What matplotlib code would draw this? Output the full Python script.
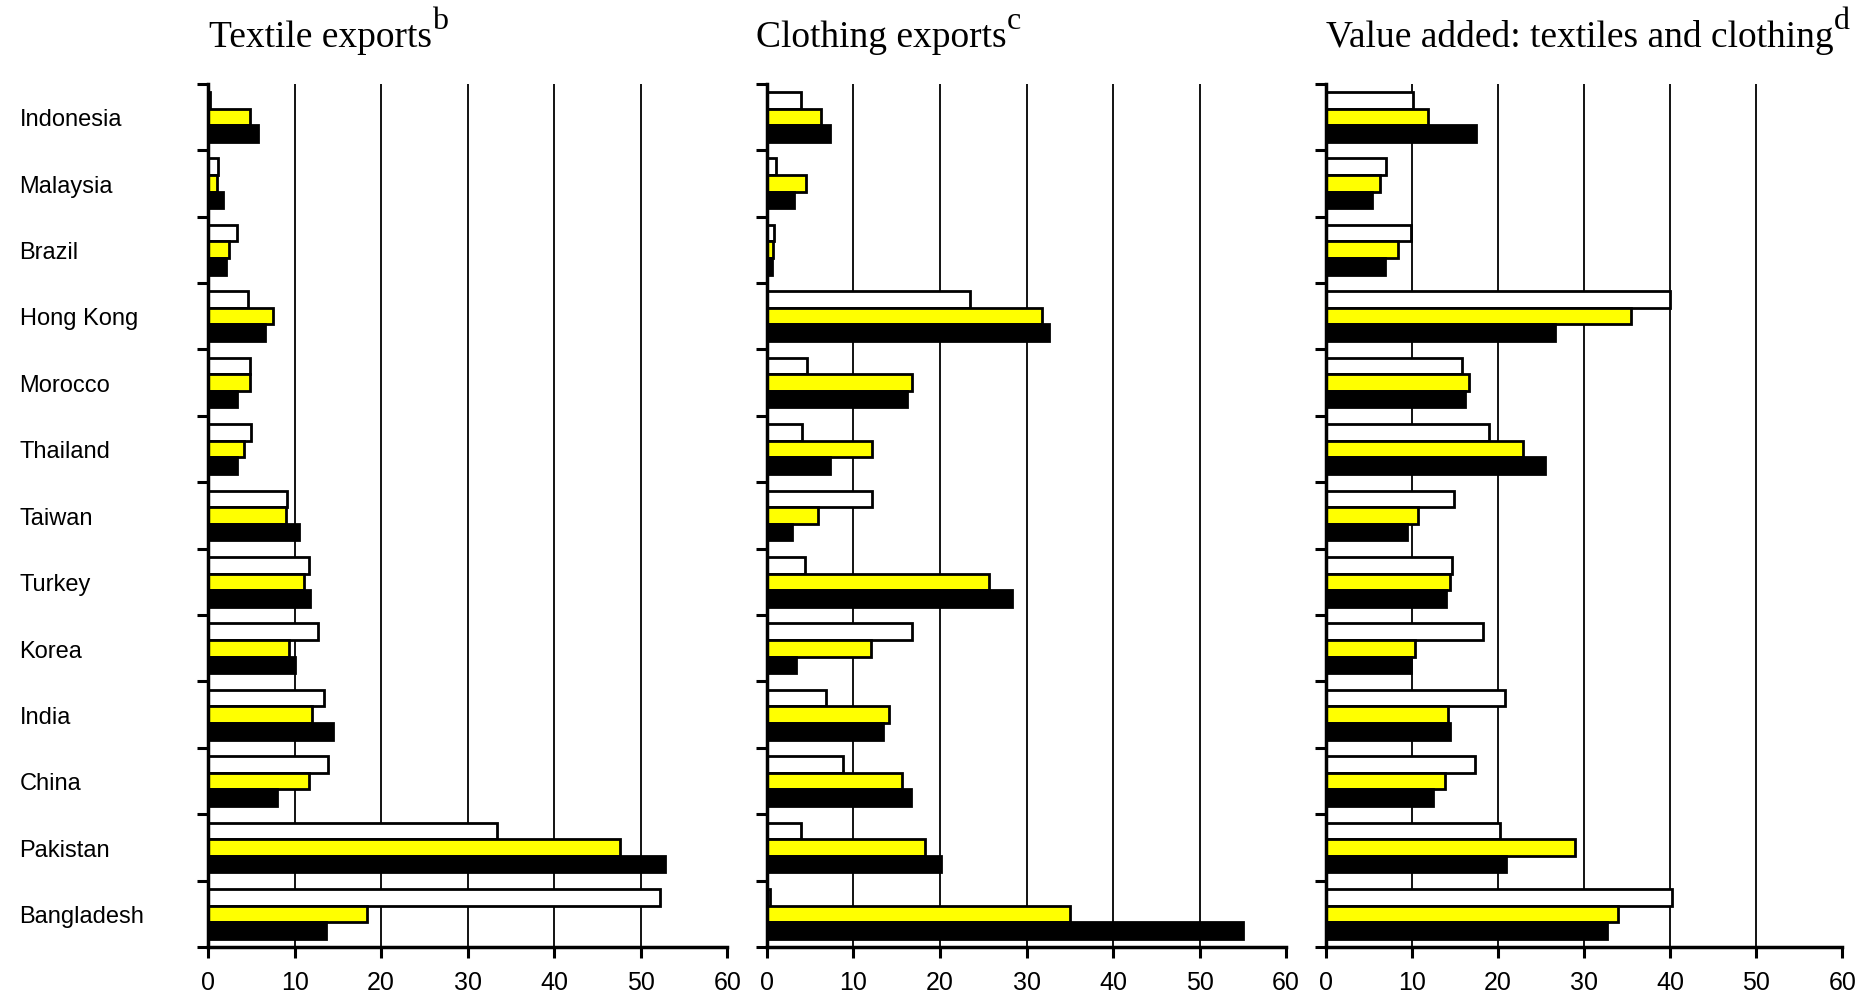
import matplotlib.pyplot as plt
import matplotlib.transforms as mtransforms
import numpy as np

# categories, top to bottom
countries = ['Indonesia', 'Malaysia', 'Brazil', 'Hong Kong', 'Morocco', 'Thailand',
             'Taiwan', 'Turkey', 'Korea', 'India', 'China', 'Pakistan', 'Bangladesh']

# textile exports
textile_white = [0.2, 1.2, 3.4, 4.6, 4.8, 5.0, 9.1, 11.7, 12.7, 13.4, 13.9, 33.4, 52.2]
textile_yellow = [4.8, 1.0, 2.4, 7.5, 4.8, 4.1, 9.0, 11.1, 9.3, 12.0, 11.7, 47.6, 18.4]
textile_black = [5.8, 1.7, 2.1, 6.6, 3.4, 3.4, 10.5, 11.8, 10.0, 14.4, 8.0, 52.8, 13.6]

# clothing exports
clothing_white = [3.9, 1.1, 0.8, 23.5, 4.6, 4.1, 12.2, 4.4, 16.8, 6.8, 8.8, 3.9, 0.3]
clothing_yellow = [6.2, 4.5, 0.7, 31.8, 16.8, 12.2, 5.9, 25.7, 12.0, 14.1, 15.6, 18.3, 35.0]
clothing_black = [7.3, 3.1, 0.6, 32.6, 16.2, 7.3, 2.9, 28.3, 3.4, 13.4, 16.7, 20.1, 55.0]

# value added: textiles and clothing
value_white = [10.1, 7.0, 9.9, 40.0, 15.8, 19.0, 14.9, 14.7, 18.2, 20.8, 17.3, 20.2, 40.2]
value_yellow = [11.9, 6.3, 8.4, 35.4, 16.6, 22.9, 10.7, 14.4, 10.3, 14.2, 13.8, 28.9, 33.9]
value_black = [17.4, 5.3, 6.9, 26.6, 16.1, 25.4, 9.4, 14.0, 9.9, 14.4, 12.4, 20.9, 32.7]

titles = ['Textile exports', 'Clothing exports', 'Value added: textiles and clothing']
title_notes = ['b', 'c', 'd']
xticks = [0, 10, 20, 30, 40, 50, 60]

panels = [
    (textile_white, textile_yellow, textile_black),
    (clothing_white, clothing_yellow, clothing_black),
    (value_white, value_yellow, value_black),
]

fig = plt.figure(figsize=(18.61, 9.96), dpi=100)
lefts = [0.1118, 0.4121, 0.7125]
widths = [0.2790, 0.2790, 0.2775]
bottom, top = 0.049, 0.916
title_x = [0.1125, 0.4065, 0.7125]

y = np.arange(len(countries))
h = 0.25
lw = 2.0

for k, (white, yellow, black) in enumerate(panels):
    ax = fig.add_axes([lefts[k], bottom, widths[k], top - bottom])
    ax.barh(y - h, white, height=h, color='white', edgecolor='black', linewidth=lw, zorder=3)
    ax.barh(y, yellow, height=h, color='#ffff00', edgecolor='black', linewidth=lw, zorder=3)
    ax.barh(y + h, black, height=h, color='black', edgecolor='black', linewidth=lw, zorder=3)

    ax.set_xlim(0, 60)
    ax.set_ylim(len(countries) - 0.5, -0.5)
    ax.set_xticks(xticks)
    ax.set_xticklabels([str(t) for t in xticks], fontsize=18, family='Liberation Sans')
    ax.set_yticks(np.arange(len(countries) + 1) - 0.5)
    ax.set_yticklabels([])
    ax.tick_params(axis='both', direction='out', length=8, width=2.2, colors='black')
    ax.tick_params(axis='x', pad=9)

    ax.grid(axis='x', color='black', linewidth=1.3, zorder=1)
    gl = ax.get_xgridlines()
    gl[0].set_visible(False)
    gl[-1].set_visible(False)

    for side in ['top', 'right']:
        ax.spines[side].set_visible(False)
    for side in ['left', 'bottom']:
        ax.spines[side].set_linewidth(2.5)
        ax.spines[side].set_zorder(4)

    # title with raised note letter
    t = fig.text(title_x[k], 0.962, titles[k], fontsize=27, family='Liberation Serif',
                 ha='left', va='center')
    note = plt.Annotation(title_notes[k], xy=(1.0, 0.55), xycoords=t,
                          fontsize=23, family='Liberation Serif', ha='left', va='bottom')
    note.set_figure(fig)
    fig.texts.append(note)

    if k == 0:
        trans = mtransforms.blended_transform_factory(fig.transFigure, ax.transData)
        for i, name in enumerate(countries):
            ax.text(0.0105, i + 0.05, name, transform=trans, fontsize=17,
                    family='Liberation Sans', ha='left', va='center')

fig.savefig('out.png', dpi=100)
